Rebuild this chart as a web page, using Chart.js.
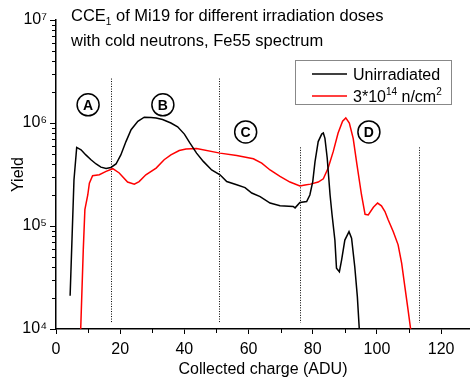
<!DOCTYPE html>
<html>
<head>
<meta charset="utf-8">
<script src="https://cdn.jsdelivr.net/npm/chart.js@4.4.1/dist/chart.umd.min.js"></script>
<style>
  html, body { margin: 0; padding: 0; background: #fff; overflow: hidden; }
  #wrap { width: 470px; height: 383px; position: relative; }
</style>
</head>
<body>
<div id="wrap"><canvas id="chart"></canvas></div>
<script>
// Fe55 spectrum of Mi19, CCE1 yield vs collected charge (ADU)
const seriesNames = ['Unirradiated', '3*10\u00B9\u2074 n/cm\u00B2'];
const seriesColors = ['#000000', '#ff0000'];

const unirradiatedX = [4.4, 5.6, 6.45, 7.8, 9.3, 10.9, 12.5, 14.0, 15.6, 17.1, 18.7, 20.2, 21.8, 23.4, 25.5, 27.5, 29.6, 31.2, 33.2, 35.8, 37.9, 40.0, 41.7, 43.8, 45.9, 48.5, 51.1, 53.2, 56.3, 58.9, 61.0, 63.6, 66.7, 69.8, 73.9, 74.5, 76.0, 78.1, 79.1, 80.0, 80.7, 81.7, 82.8, 83.3, 83.8, 84.5, 85.4, 86.0, 86.9, 87.4, 88.3, 89.0, 90.0, 91.3, 92.1, 93.1, 93.9, 94.5];
const unirradiatedY = [2.1e4, 2.8e5, 5.8e5, 5.5e5, 4.9e5, 4.4e5, 4.0e5, 3.73e5, 3.62e5, 3.7e5, 4.0e5, 4.9e5, 6.6e5, 8.6e5, 1.04e6, 1.14e6, 1.13e6, 1.12e6, 1.08e6, 1.0e6, 9.2e5, 7.8e5, 6.4e5, 5.1e5, 4.24e5, 3.5e5, 3.14e5, 2.7e5, 2.51e5, 2.36e5, 2.09e5, 1.93e5, 1.67e5, 1.57e5, 1.55e5, 1.5e5, 1.69e5, 1.73e5, 2.0e5, 2.7e5, 4.2e5, 6.6e5, 7.8e5, 8.0e5, 7.1e5, 4.6e5, 2.0e5, 1.3e5, 7.3e4, 3.9e4, 3.6e4, 4.7e4, 7.3e4, 8.8e4, 7.6e4, 4.0e4, 2.06e4, 1.0e4];

const irradiatedX = [7.7, 8.5, 9.0, 9.9, 10.4, 11.4, 13.5, 15.6, 17.7, 19.7, 22.3, 24.4, 25.9, 28.0, 31.2, 33.7, 35.8, 38.4, 40.5, 43.8, 51.1, 56.3, 61.5, 64.1, 66.7, 69.8, 72.9, 76.0, 77.6, 79.3, 81.7, 83.3, 84.8, 86.4, 87.9, 89.3, 90.3, 91.4, 92.6, 93.8, 95.2, 96.3, 97.3, 98.9, 100.2, 101.4, 102.5, 103.5, 105.1, 106.6, 107.7, 108.7, 109.7, 110.5];
const irradiatedY = [1.0e4, 5.9e4, 1.44e5, 2.0e5, 2.6e5, 3.08e5, 3.15e5, 3.39e5, 3.6e5, 3.27e5, 2.67e5, 2.55e5, 2.7e5, 3.14e5, 3.65e5, 4.4e5, 4.9e5, 5.4e5, 5.6e5, 5.65e5, 5.1e5, 4.84e5, 4.5e5, 4.08e5, 3.5e5, 3.03e5, 2.67e5, 2.45e5, 2.5e5, 2.55e5, 2.67e5, 2.87e5, 3.65e5, 5.3e5, 8.0e5, 1.04e6, 1.12e6, 1.0e6, 7.1e5, 3.9e5, 2.0e5, 1.3e5, 1.28e5, 1.52e5, 1.67e5, 1.57e5, 1.38e5, 1.15e5, 8.8e4, 6.56e4, 4.36e4, 2.58e4, 1.53e4, 1.0e4];

// Region boundaries (dotted lines) and region letters
const boundaryX = [17.0, 50.8, 75.9, 113.2];
const boundaryTop = [2.7e6, 2.7e6, 5.8e5, 5.8e5];
const boundaryBottom = 1.15e4;
const regionLetters = ['A', 'B', 'C', 'D'];
const regionLabelX = [10.0, 33.3, 59.1, 97.5];
const regionLabelY = [1.5e6, 1.5e6, 8.2e5, 8.2e5];

// Axis ticks
const xMajorTicks = [0, 20, 40, 60, 80, 100, 120];
const xMinorTicks = [10, 30, 50, 70, 90, 110];
const yDecades = [1e4, 1e5, 1e6, 1e7];
const titleLines = ['of Mi19 for different irradiation doses', 'with cold neutrons, Fe55 spectrum'];

const FONT = "'Liberation Sans', Arial, sans-serif";
const SUP = { '0': '\u2070', '1': '\u00B9', '2': '\u00B2', '3': '\u00B3', '4': '\u2074', '5': '\u2075', '6': '\u2076', '7': '\u2077', '8': '\u2078', '9': '\u2079' };
const UNSUP = Object.fromEntries(Object.entries(SUP).map(([k, v]) => [v, k]));

const toPoints = (xs, ys) => xs.map((x, i) => ({ x: x, y: ys[i] }));

// Text with superscript digits drawn as small raised characters
function drawRich(ctx, text, x, y, size) {
  let cx = x;
  for (const ch of text) {
    if (UNSUP[ch] !== undefined) {
      ctx.font = Math.round(size * 0.6) + 'px ' + FONT;
      ctx.fillText(UNSUP[ch], cx, y - size * 0.42);
      cx += ctx.measureText(UNSUP[ch]).width;
    } else {
      ctx.font = size + 'px ' + FONT;
      ctx.fillText(ch, cx, y);
      cx += ctx.measureText(ch).width;
    }
  }
}

const decorPlugin = {
  id: 'decor',
  beforeDatasetsDraw(chart) {
    const ctx = chart.ctx, xs = chart.scales.x, ys = chart.scales.y;
    ctx.save();
    ctx.strokeStyle = '#000';
    ctx.lineWidth = 1;
    ctx.setLineDash([1, 1.5]);
    boundaryX.forEach((bx, i) => {
      const px = Math.round(xs.getPixelForValue(bx)) + 0.5;
      ctx.beginPath();
      ctx.moveTo(px, ys.getPixelForValue(boundaryTop[i]));
      ctx.lineTo(px, ys.getPixelForValue(boundaryBottom));
      ctx.stroke();
    });
    ctx.restore();
  },
  afterDraw(chart) {
    const ctx = chart.ctx, xs = chart.scales.x, ys = chart.scales.y, area = chart.chartArea;
    ctx.save();
    // minor ticks
    ctx.strokeStyle = '#000';
    ctx.lineWidth = 1;
    xMinorTicks.forEach(v => {
      const px = Math.round(xs.getPixelForValue(v)) + 0.5;
      ctx.beginPath(); ctx.moveTo(px, area.bottom); ctx.lineTo(px, area.bottom + 4); ctx.stroke();
    });
    yDecades.slice(0, -1).forEach(d => {
      for (let m = 2; m <= 9; m++) {
        const py = Math.round(ys.getPixelForValue(m * d)) + 0.5;
        ctx.beginPath(); ctx.moveTo(area.left - 4, py); ctx.lineTo(area.left, py); ctx.stroke();
      }
    });

    // region letters in circles
    regionLetters.forEach((t, i) => {
      const px = xs.getPixelForValue(regionLabelX[i]);
      const py = ys.getPixelForValue(regionLabelY[i]);
      ctx.beginPath();
      ctx.lineWidth = 1.5;
      ctx.arc(px, py, 11, 0, Math.PI * 2);
      ctx.stroke();
      ctx.fillStyle = '#000';
      ctx.font = 'bold 14px ' + FONT;
      ctx.textAlign = 'center';
      ctx.textBaseline = 'middle';
      ctx.fillText(t, px, py + 1);
    });

    // title
    ctx.fillStyle = '#000';
    ctx.textAlign = 'left';
    ctx.textBaseline = 'alphabetic';
    const ts = 16.5;
    ctx.font = ts + 'px ' + FONT;
    let tx = 71;
    ctx.fillText('CCE', tx, 21);
    tx += ctx.measureText('CCE').width;
    ctx.font = '10px ' + FONT;
    ctx.fillText('1', tx, 25);
    tx += ctx.measureText('1').width;
    ctx.font = ts + 'px ' + FONT;
    ctx.fillText(' ' + titleLines[0], tx, 21);
    ctx.fillText(titleLines[1], 71, 46);

    // legend box
    const lx = 295.5, ly = 60.5, lw = 156, lh = 44;
    ctx.fillStyle = '#fff';
    ctx.fillRect(lx, ly, lw, lh);
    ctx.strokeStyle = '#888';
    ctx.lineWidth = 1;
    ctx.strokeRect(lx, ly, lw, lh);
    chart.data.datasets.forEach((ds, i) => {
      const yy = 74 + i * 22;
      ctx.strokeStyle = ds.borderColor;
      ctx.lineWidth = 1.5;
      ctx.beginPath(); ctx.moveTo(312, yy); ctx.lineTo(347, yy); ctx.stroke();
      ctx.fillStyle = '#000';
      drawRich(ctx, ds.label, 353, yy + 6, 16);
    });
    ctx.restore();
  }
};

new Chart(document.getElementById('chart'), {
  type: 'line',
  data: {
    datasets: [
      { label: seriesNames[0], data: toPoints(unirradiatedX, unirradiatedY), borderColor: seriesColors[0], borderWidth: 1.5, pointRadius: 0, tension: 0, fill: false },
      { label: seriesNames[1], data: toPoints(irradiatedX, irradiatedY), borderColor: seriesColors[1], borderWidth: 1.5, pointRadius: 0, tension: 0, fill: false }
    ]
  },
  options: {
    responsive: true,
    maintainAspectRatio: false,
    devicePixelRatio: 1,
    animation: false,
    layout: { padding: { top: 20, right: 0, left: 0, bottom: 0 } },
    plugins: { legend: { display: false }, title: { display: false }, tooltip: { enabled: false } },
    scales: {
      x: {
        type: 'linear',
        min: 0,
        max: 129,
        afterFit: s => { s.height = 54; },
        afterBuildTicks: s => { s.ticks = xMajorTicks.map(v => ({ value: v })); },
        ticks: { color: '#000', font: { family: FONT, size: 16 }, padding: 6, maxRotation: 0, autoSkip: false },
        grid: { display: true, drawOnChartArea: false, drawTicks: true, tickLength: 5, tickColor: '#000', tickWidth: 1 },
        border: { display: true, color: '#000', width: 1.5 },
        title: { display: true, text: 'Collected charge (ADU)', color: '#000', font: { family: FONT, size: 16 }, padding: { top: 0, bottom: 4 } }
      },
      y: {
        type: 'logarithmic',
        min: 1e4,
        max: 1e7,
        afterFit: s => { s.width = 56; },
        afterBuildTicks: s => { s.ticks = yDecades.map(v => ({ value: v })); },
        ticks: {
          color: '#000', font: { family: FONT, size: 16 }, padding: 3, autoSkip: false,
          callback: v => '10' + String(Math.round(Math.log10(v))).split('').map(c => SUP[c]).join('')
        },
        grid: { display: true, drawOnChartArea: false, drawTicks: true, tickLength: 6, tickColor: '#000', tickWidth: 1 },
        border: { display: true, color: '#000', width: 1.5 },
        title: { display: true, text: 'Yield', color: '#000', font: { family: FONT, size: 16 }, padding: { top: 9, bottom: 0 } }
      }
    }
  },
  plugins: [decorPlugin]
});
</script>
</body>
</html>
